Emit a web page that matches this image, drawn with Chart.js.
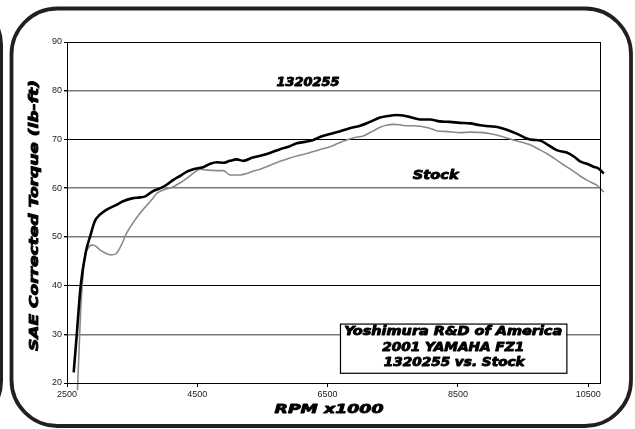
<!DOCTYPE html>
<html>
<head>
<meta charset="utf-8">
<script src="https://cdn.jsdelivr.net/npm/chart.js@4.4.1/dist/chart.umd.min.js"></script>
<style>
  html, body { margin: 0; padding: 0; background: #fff; }
  #wrap { width: 635px; height: 429px; position: relative; }
</style>
</head>
<body>
<div id="wrap"><canvas id="torque"></canvas></div>
<script>
// 1320255 pipe
var modRpm = [2603, 2650, 2710, 2790, 2853, 2930, 3000, 3110, 3250, 3360, 3500, 3620, 3700, 3820, 3950, 4030,
  4132, 4250, 4340, 4440, 4590, 4700, 4800, 4900, 5000, 5105, 5206, 5350, 5513, 5650, 5770, 5900, 6026,
  6150, 6281, 6400, 6537, 6650, 6793, 6900, 6998, 7151, 7305, 7420, 7561, 7660, 7765, 7919, 8072, 8220,
  8379, 8530, 8686, 8840, 8993, 9120, 9249, 9400, 9556, 9660, 9760, 9880, 10017, 10170, 10280, 10375,
  10480, 10579, 10660, 10740];
var modTorque = [22.2, 30, 40, 47, 50, 53.3, 54.5, 55.6, 56.5, 57.3, 57.9, 58.1, 58.3, 59.4, 60.1, 60.7,
  61.7, 62.6, 63.4, 63.9, 64.3, 65.0, 65.3, 65.2, 65.6, 65.9, 65.6, 66.3, 66.8, 67.4, 68.0, 68.5, 69.2,
  69.5, 69.9, 70.6, 71.1, 71.5, 72.1, 72.5, 72.8, 73.6, 74.5, 74.8, 75.0, 74.9, 74.6, 74.1, 74.1, 73.7,
  73.6, 73.4, 73.3, 72.9, 72.7, 72.5, 72.0, 71.2, 70.2, 69.9, 69.8, 68.9, 67.8, 67.3, 66.5, 65.5,
  65.0, 64.4, 64.0, 63.0];

// stock exhaust
var stockRpm = [2660, 2680, 2710, 2745, 2770, 2820, 2880, 2930, 3000, 3100, 3170, 3250, 3330, 3416, 3500,
  3600, 3700, 3800, 3877, 4000, 4132, 4250, 4337, 4450, 4542, 4650, 4800, 4900, 5002, 5156, 5258, 5360,
  5463, 5620, 5770, 5900, 6026, 6150, 6281, 6400, 6537, 6660, 6793, 6920, 7048, 7180, 7305, 7400, 7509,
  7610, 7714, 7810, 7919, 8040, 8174, 8350, 8532, 8700, 8890, 9020, 9146, 9250, 9351, 9480, 9607, 9740,
  9863, 9990, 10118, 10250, 10375, 10500, 10631, 10740];
var stockTorque = [18.5, 25, 35, 42, 45.5, 47.6, 48.3, 48.2, 47.4, 46.6, 46.3, 46.5, 48.2, 50.8, 52.6,
  54.5, 56.1, 57.6, 58.9, 59.7, 60.3, 61.2, 62.0, 63.2, 63.9, 63.7, 63.6, 63.6, 62.7, 62.7, 63.0, 63.5,
  63.9, 64.7, 65.5, 66.1, 66.6, 67.0, 67.5, 68.0, 68.5, 69.2, 69.9, 70.4, 70.7, 71.6, 72.5, 72.9, 73.1,
  73.0, 72.8, 72.8, 72.7, 72.4, 71.8, 71.6, 71.4, 71.5, 71.4, 71.1, 70.7, 70.3, 69.9, 69.4, 68.9, 68.0,
  67.1, 66.0, 64.8, 63.7, 62.5, 61.5, 60.6, 59.2];

var rpmTicks = [2500, 4500, 6500, 8500, 10500];
var boxLines = ['Yoshimura R&D of America', '2001 YAMAHA FZ1', '1320255 vs. Stock'];
var yTitle = 'SAE Corrected Torque (lb-ft)';
var xTitle = 'RPM x1000';

function pairs(xs, ys) {
  return xs.map(function(x, i) { return {x: x, y: ys[i]}; });
}

// wide heavy italic look: stretch a bold oblique run to a width, thicken with a stroke
function wideText(ctx, text, cx, cy, w, size, rot) {
  ctx.save();
  ctx.translate(cx, cy);
  if (rot) ctx.rotate(rot);
  ctx.font = 'italic bold ' + size + 'px "DejaVu Sans"';
  ctx.textAlign = 'center';
  ctx.textBaseline = 'middle';
  ctx.fillStyle = '#000';
  ctx.strokeStyle = '#000';
  ctx.lineWidth = 0.9;
  ctx.lineJoin = 'round';
  var m = ctx.measureText(text).width;
  ctx.scale(w / m, 1);
  ctx.fillText(text, 0, 0);
  ctx.strokeText(text, 0, 0);
  ctx.restore();
}

var framePlugin = {
  id: 'frame',
  beforeDraw: function(chart) {
    var ctx = chart.ctx;
    ctx.save();
    ctx.strokeStyle = '#231f20';
    ctx.lineWidth = 3.8;
    ctx.beginPath();
    ctx.roundRect(11.5, 8.5, 619.5, 417.5, 46);
    ctx.stroke();
    // edge of the neighbouring panel
    ctx.lineWidth = 3;
    ctx.beginPath();
    ctx.roundRect(-500, 0, 501.5, 426, 45);
    ctx.stroke();
    ctx.restore();
  },
  afterDraw: function(chart) {
    var ctx = chart.ctx;
    var a = chart.chartArea;
    var xs = chart.scales.x, ys = chart.scales.y;
    ctx.save();
    ctx.strokeStyle = '#000';
    ctx.lineWidth = 1;
    ctx.strokeRect(a.left + 0.5, a.top + 0.5, a.right - a.left, a.bottom - a.top);

    // series labels
    wideText(ctx, '1320255', xs.getPixelForValue(6200), ys.getPixelForValue(81.7), 63, 12);
    wideText(ctx, 'Stock', xs.getPixelForValue(8160), ys.getPixelForValue(62.6), 46, 13);

    // note box
    var bx = xs.getPixelForValue(6690), bx2 = xs.getPixelForValue(10165);
    var by = ys.getPixelForValue(32.2), by2 = ys.getPixelForValue(22.1);
    ctx.fillStyle = '#fff';
    ctx.fillRect(bx, by, bx2 - bx, by2 - by);
    ctx.strokeStyle = '#000';
    ctx.lineWidth = 1.2;
    ctx.strokeRect(bx + 0.5, by + 0.5, bx2 - bx, by2 - by);
    var cx = (bx + bx2) / 2;
    wideText(ctx, boxLines[0], cx, by + 8.5, 218, 12);
    wideText(ctx, boxLines[1], cx, by + 24, 142, 12);
    wideText(ctx, boxLines[2], cx + 1, by + 39, 141, 12);

    // axis titles
    wideText(ctx, xTitle, 329, 410, 109, 13);
    wideText(ctx, yTitle, 35, 215.5, 271, 13, -Math.PI / 2);
    ctx.restore();
  }
};

var gridColors = {90: '#000', 80: '#7a7a7a', 70: '#000', 60: '#7a7a7a', 50: '#7a7a7a', 40: '#000', 30: '#7a7a7a', 20: '#000'};

new Chart(document.getElementById('torque').getContext('2d'), {
  type: 'line',
  data: {
    datasets: [{
      label: '1320255',
      data: pairs(modRpm, modTorque),
      borderColor: '#000',
      borderWidth: 2.6,
      pointRadius: 0,
      cubicInterpolationMode: 'monotone',
      clip: false
    }, {
      label: 'Stock',
      data: pairs(stockRpm, stockTorque),
      borderColor: '#8a8a8a',
      borderWidth: 1.6,
      pointRadius: 0,
      cubicInterpolationMode: 'monotone',
      clip: false
    }]
  },
  options: {
    responsive: true,
    maintainAspectRatio: false,
    animation: false,
    layout: { padding: { top: 42, right: 35, bottom: 0, left: 0 } },
    plugins: {
      legend: { display: false },
      tooltip: { enabled: false }
    },
    scales: {
      x: {
        type: 'linear',
        min: 2500,
        max: 10681,
        afterBuildTicks: function(scale) {
          scale.ticks = rpmTicks.map(function(v) { return {value: v}; });
        },
        afterFit: function(scale) { scale.height = 46; },
        grid: { drawOnChartArea: false, drawTicks: true, tickLength: 4, color: '#000' },
        border: { color: '#000', width: 1 },
        ticks: {
          color: '#222',
          font: { family: 'Liberation Sans', size: 9 },
          padding: 2,
          maxRotation: 0,
          callback: function(v) { return String(v); }
        }
      },
      y: {
        min: 20,
        max: 90,
        afterFit: function(scale) { scale.width = 67; },
        grid: {
          color: function(c) { return gridColors[c.tick.value] || '#7a7a7a'; },
          lineWidth: function(c) { return gridColors[c.tick.value] === '#000' ? 1 : 1.4; },
          tickLength: 3,
          tickColor: '#000'
        },
        border: { color: '#000', width: 1 },
        ticks: {
          stepSize: 10,
          color: '#222',
          font: { family: 'Liberation Sans', size: 9 },
          padding: 2
        }
      }
    }
  },
  plugins: [framePlugin]
});
</script>
</body>
</html>
